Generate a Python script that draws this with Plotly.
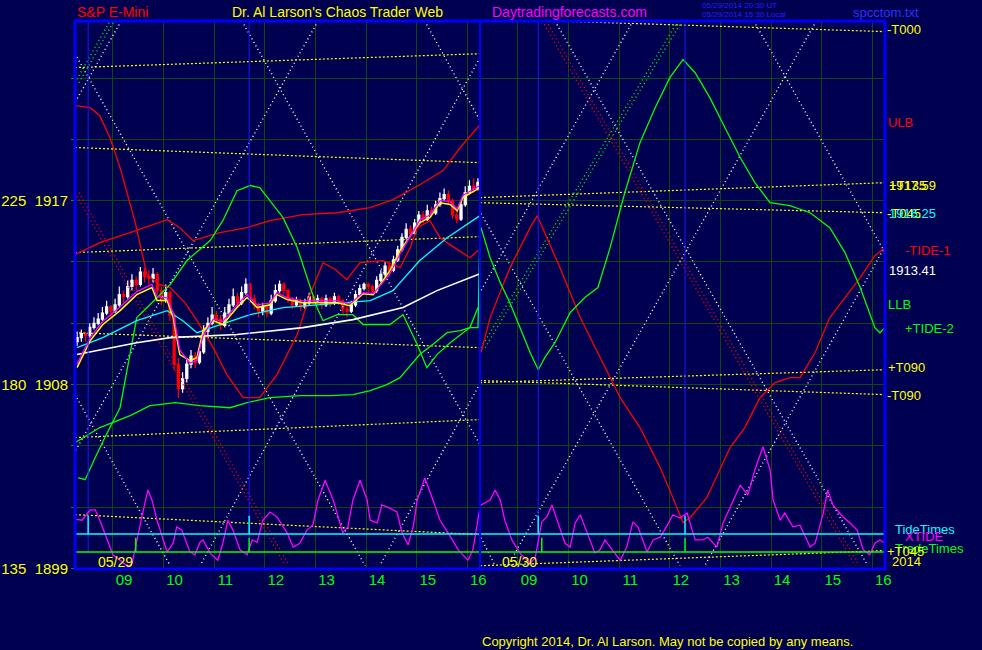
import plotly.graph_objects as go
import pandas as pd

# ---------------- data ----------------
# 5-minute S&P E-mini bars, day 1 session 08:15 - 16:15
bar_open = [1910.1,1910.3,1910.5,1910.4,1910.8,1911.0,1911.2,1911.5,1911.8,1911.6,
            1911.9,1912.4,1912.3,1912.8,1913.1,1912.9,1913.5,1913.3,1913.2,1913.4,
            1912.6,1912.2,1912.5,1911.4,1909.0,1907.8,1908.3,1909.0,1909.4,1909.1,
            1909.6,1910.6,1911.0,1911.4,1911.2,1910.9,1911.5,1911.9,1912.3,1912.0,
            1912.5,1912.9,1912.2,1911.9,1911.6,1911.8,1911.5,1912.1,1912.6,1912.9,
            1912.6,1912.2,1911.9,1912.1,1911.8,1912.0,1912.3,1912.1,1912.2,1911.9,
            1912.2,1912.0,1912.3,1912.1,1911.7,1911.6,1911.9,1912.4,1912.7,1912.9,
            1912.8,1912.6,1913.1,1913.4,1913.8,1913.6,1914.1,1914.6,1915.2,1915.6,
            1915.4,1915.9,1916.3,1916.1,1916.5,1916.4,1916.8,1917.1,1917.3,1917.0,
            1916.3,1916.1,1916.8,1917.4,1917.7,1917.6]
bar_high = [1910.6,1910.7,1910.6,1911.0,1911.3,1911.5,1911.8,1912.1,1911.9,1912.2,
            1912.8,1912.6,1913.1,1913.4,1913.3,1913.75,1913.7,1913.6,1913.7,1913.5,
            1912.8,1912.9,1912.6,1911.5,1909.3,1908.6,1909.3,1909.7,1909.6,1909.9,
            1910.9,1911.3,1911.8,1911.6,1911.4,1911.8,1912.2,1912.7,1912.5,1912.8,
            1913.2,1913.0,1912.4,1912.0,1912.0,1911.9,1912.4,1912.9,1913.1,1913.0,
            1912.7,1912.3,1912.3,1912.2,1912.2,1912.5,1912.4,1912.4,1912.3,1912.4,
            1912.3,1912.5,1912.4,1912.2,1911.9,1912.1,1912.6,1912.9,1913.0,1913.0,
            1912.9,1913.3,1913.6,1914.0,1914.0,1914.3,1914.8,1915.4,1915.9,1915.8,
            1916.1,1916.5,1916.5,1916.8,1916.7,1917.0,1917.4,1917.6,1917.5,1917.1,
            1916.5,1917.0,1917.7,1918.0,1918.1,1918.1]
bar_low = [1909.9,1910.1,1910.1,1910.3,1910.7,1910.9,1911.1,1911.4,1911.3,1911.5,
           1911.8,1912.0,1912.2,1912.6,1912.6,1912.8,1913.0,1912.9,1913.0,1912.4,
           1911.9,1912.0,1911.1,1908.7,1907.35,1907.6,1908.1,1908.8,1908.8,1909.0,
           1909.5,1910.4,1910.9,1911.0,1910.7,1910.8,1911.4,1911.8,1911.8,1911.9,
           1912.4,1912.0,1911.7,1911.3,1911.4,1911.3,1911.4,1912.0,1912.5,1912.4,
           1912.0,1911.7,1911.8,1911.6,1911.7,1911.9,1911.9,1912.0,1911.7,1911.8,
           1911.8,1911.9,1911.9,1911.4,1911.3,1911.5,1911.8,1912.3,1912.6,1912.5,
           1912.4,1912.5,1913.0,1913.3,1913.4,1913.5,1914.0,1914.5,1915.1,1915.2,
           1915.3,1915.8,1915.9,1916.0,1916.2,1916.3,1916.7,1917.0,1916.8,1916.1,
           1915.9,1916.0,1916.7,1917.3,1917.4,1917.5]
bar_close = [1910.3,1910.5,1910.4,1910.8,1911.0,1911.2,1911.5,1911.8,1911.6,1911.9,
             1912.4,1912.3,1912.8,1913.1,1912.9,1913.5,1913.3,1913.2,1913.4,1912.6,
             1912.2,1912.5,1911.4,1909.0,1907.8,1908.3,1909.0,1909.4,1909.1,1909.6,
             1910.6,1911.0,1911.4,1911.2,1910.9,1911.5,1911.9,1912.3,1912.0,1912.5,
             1912.9,1912.2,1911.9,1911.6,1911.8,1911.5,1912.1,1912.6,1912.9,1912.6,
             1912.2,1911.9,1912.1,1911.8,1912.0,1912.3,1912.1,1912.2,1911.9,1912.2,
             1912.0,1912.3,1912.1,1911.7,1911.6,1911.9,1912.4,1912.7,1912.9,1912.8,
             1912.6,1913.1,1913.4,1913.8,1913.6,1914.1,1914.6,1915.2,1915.6,1915.4,
             1915.9,1916.3,1916.1,1916.5,1916.4,1916.8,1917.1,1917.3,1917.0,1916.3,
             1916.1,1916.8,1917.4,1917.7,1917.6,1917.9]

# moving averages (day 1), clock hours / price
ma_yel_h = [8.29,8.55,8.80,9.14,9.47,9.77,9.87,10.07,10.19,10.32,10.52,10.66,10.78,10.98,11.17,
            11.45,11.65,11.85,12.10,12.24,12.44,12.75,13.43,13.68,13.94,14.14,14.47,14.67,15.06,
            15.26,15.46,15.66,15.80,15.91,16.25]
ma_yel_p = [1908.83,1910.15,1910.94,1911.62,1912.40,1912.75,1912.11,1912.11,1911.28,1909.47,1909.17,
            1909.32,1910.64,1911.13,1910.94,1911.77,1912.26,1911.77,1911.91,1912.40,1912.16,1912.01,
            1912.01,1911.86,1912.45,1912.40,1913.58,1914.56,1915.93,1916.17,1916.90,1916.81,1916.51,
            1917.15,1917.64]
ma_mag_p = [1909.0,1910.3,1911.1,1911.8,1912.55,1912.9,1912.3,1912.25,1911.5,1909.7,1909.05,
            1909.2,1910.4,1911.2,1911.1,1911.9,1912.4,1911.9,1912.0,1912.5,1912.25,1912.1,
            1912.1,1911.95,1912.5,1912.45,1913.4,1914.4,1916.05,1916.3,1917.0,1916.95,1916.6,
            1917.25,1917.75]
ma_cyan_h = [8.29,8.80,9.47,10.07,10.38,10.66,11.06,11.71,12.36,13.09,13.74,14.08,14.53,15.06,15.60,16.25]
ma_cyan_p = [1909.81,1910.30,1911.13,1911.62,1911.13,1910.54,1910.89,1911.42,1911.77,1911.91,
             1912.01,1912.11,1912.60,1914.07,1915.19,1916.27]
ma_white_h = [8.29,9.47,10.13,11.45,12.75,13.74,14.73,15.40,16.25]
ma_white_p = [1909.47,1910.05,1910.30,1910.45,1910.79,1911.18,1911.77,1912.60,1913.43]

# upper band (ULB) day 1
ulb_h = [8.25,8.74,9.34,10.07,10.32,10.58,11.11,11.65,12.10,12.75,13.43,14.08,14.53,15.06,15.52,15.86,16.25]
ulb_p = [1914.36,1914.95,1915.44,1916.07,1915.68,1915.05,1915.44,1915.68,1916.02,1916.32,
         1916.41,1916.66,1917.05,1917.78,1918.47,1919.60,1920.72]
# lower band (LLB) day 1
llb_h = [8.25,8.74,9.34,9.73,10.23,10.72,11.31,11.65,12.10,12.69,13.29,13.74,14.08,14.41,14.67,
         15.06,15.36,15.60,15.86,16.05,16.21]
llb_p = [1905.16,1905.90,1906.48,1906.97,1907.12,1906.97,1906.87,1907.12,1907.36,1907.46,1907.46,
         1907.51,1907.71,1908.00,1908.34,1909.47,1910.05,1910.54,1910.64,1910.79,1911.77]

# TIDE-1 (red) day 1 and day 2
tide1_d1_h = [8.25,8.55,8.74,8.94,9.14,9.44,9.67,9.93,10.13,10.42,10.66,10.98,11.25,11.57,11.90,
              12.24,12.64,12.89,13.15,13.39,13.62,13.88,14.33,14.67,14.87,15.01,15.26,15.46,15.66,
              16.05,16.21]
tide1_d1_p = [1921.65,1921.55,1921.16,1920.08,1918.62,1915.93,1913.38,1912.89,1912.75,1912.01,
              1911.13,1909.81,1908.49,1907.36,1907.36,1908.49,1910.45,1912.40,1913.97,1913.63,
              1913.14,1913.97,1914.07,1913.72,1914.70,1915.68,1916.02,1915.19,1914.85,1914.21,1914.56]
tide1_d2_h = [8.27,8.45,8.84,9.24,9.38,9.53,9.83,10.23,10.62,11.02,11.41,11.81,12.06,12.26,12.40,
              12.73,13.19,13.48,13.78,14.08,14.37,14.57,14.87,15.16,15.46,15.76,16.05,16.25]
tide1_d2_p = [1909.57,1911.28,1913.72,1915.68,1916.27,1915.44,1913.72,1911.28,1909.32,1907.36,
              1905.90,1903.94,1902.47,1901.25,1901.49,1902.47,1904.92,1905.90,1907.36,1908.10,
              1908.34,1908.34,1909.57,1911.28,1912.26,1913.23,1914.31,1914.70]

# TIDE-2 (green) day 1 and day 2
tide2_d1_h = [8.31,8.45,8.65,8.84,9.14,9.47,9.73,10.13,10.46,10.92,11.17,11.45,11.71,11.90,12.10,
              12.36,12.64,12.89,13.03,13.15,13.43,13.74,13.94,14.47,14.73,15.01,15.20,15.40,15.66,
              16.05,16.21,16.25]
tide2_d1_p = [1903.45,1903.35,1904.43,1905.41,1906.87,1911.28,1911.91,1912.89,1914.07,1915.05,
              1916.02,1917.49,1917.74,1917.64,1917.00,1916.17,1914.70,1912.89,1911.77,1911.13,
              1911.42,1911.42,1910.94,1910.94,1911.42,1909.96,1908.83,1909.47,1910.05,1910.79,
              1910.79,1915.68]
tide2_d2_h = [8.27,8.45,8.65,8.84,9.04,9.24,9.40,9.53,9.73,10.03,10.32,10.58,10.82,11.11,11.41,
              11.71,12.00,12.26,12.50,12.79,13.09,13.39,13.68,13.98,14.37,14.77,15.16,15.46,15.76,
              16.05,16.15,16.25]
tide2_d2_p = [1915.68,1914.21,1912.99,1912.01,1910.79,1909.57,1908.73,1909.32,1910.05,1911.52,
              1912.26,1912.75,1914.70,1917.39,1919.84,1921.55,1923.02,1923.90,1923.26,1922.04,
              1920.57,1919.11,1917.88,1916.90,1916.76,1916.41,1915.68,1914.46,1912.75,1910.79,
              1910.54,1910.79]

# yellow T-lines (start and end price of each session)
tline_day = [1, 1, 1, 1, 1, 1, 2, 2, 2, 2, 2, 2]
tline_p0 = [1923.51, 1919.60, 1914.46, 1910.54, 1905.41, 1901.64,
            1925.91, 1917.15, 1916.90, 1908.10, 1908.20, 1899.14]
tline_p1 = [1924.19, 1918.86, 1915.24, 1909.81, 1906.29, 1900.66,
            1925.27, 1917.88, 1916.41, 1908.73, 1907.51, 1899.88]

# white dotted time/price diagonals
diag_day = [1, 1, 1, 1, 1, 1, 1, 1, 2, 2, 2, 2, 2, 2, 2]
diag_h0 = [8.25, 11.51, 9.20, 13.09, 16.25, 16.25, 15.12, 8.25, 9.69, 13.62, 8.27, 8.27, 11.31, 14.93, 16.25]
diag_p0 = [1924.19, 1925.96, 1925.96, 1925.96, 1924.00, 1908.05, 1925.96, 1907.51,
           1925.96, 1925.96, 1916.37, 1900.51, 1925.96, 1925.96, 1914.75]
diag_h1 = [13.98, 16.25, 8.25, 8.25, 10.72, 14.27, 16.25, 10.13, 15.91, 16.25, 12.20, 8.55, 8.27, 8.80, 12.69]
diag_p1 = [1899.14, 1905.06, 1921.80, 1904.72, 1899.14, 1899.14, 1920.92, 1899.14,
           1899.14, 1914.46, 1899.14, 1899.14, 1912.60, 1899.14, 1899.14]

# red and green dotted diagonals
red_diag_day = [1, 2]
red_diag_h0 = [8.25, 9.44]
red_diag_p0 = [1917.39, 1925.96]
red_diag_h1 = [12.40, 15.66]
red_diag_p1 = [1899.14, 1899.14]
grn_diag_day = [1, 2]
grn_diag_h0 = [8.25, 8.27]
grn_diag_p0 = [1922.77, 1909.81]
grn_diag_h1 = [8.98, 12.20]
grn_diag_p1 = [1925.96, 1925.96]

# XTIDE oscillator (indicator units)
xt_d1_h = [8.25,8.39,8.55,8.65,8.74,8.88,9.00,9.14,9.30,9.38,9.47,9.57,9.69,9.77,9.87,10.07,10.19,
           10.26,10.36,10.52,10.62,10.72,10.78,10.92,11.07,11.17,11.27,11.37,11.51,11.65,11.75,11.85,
           11.96,12.10,12.24,12.44,12.56,12.69,12.83,12.95,13.05,13.19,13.35,13.45,13.54,13.64,13.74,
           13.88,14.02,14.08,14.22,14.31,14.47,14.61,14.71,14.83,14.93,15.01,15.16,15.32,15.46,15.62,
           15.82,16.01,16.11,16.25]
xt_d1_v = [9.1,8.9,10.8,10.8,8.9,5.3,2.6,1.6,0.4,1.1,5.3,9.5,14.4,12.6,8.9,3.1,4.7,
           7.7,7.1,3.1,2.6,4.9,5.3,2.9,1.6,4.7,8.9,7.1,3.5,2.6,5.3,4.9,
           8.9,10.4,9.5,6.6,4.0,4.7,7.1,8.0,12.6,16.2,12.6,9.5,6.6,7.7,12.6,
           16.2,12.6,8.9,8.4,11.7,11.1,10.4,6.6,4.4,7.7,12.6,16.6,12.6,8.9,6.6,
           3.5,1.6,3.5,11.3]
xt_d2_h = [8.27,8.45,8.55,8.65,8.74,8.88,9.04,9.24,9.34,9.47,9.57,9.67,9.77,9.93,10.03,10.13,10.23,
           10.36,10.52,10.62,10.72,10.82,11.02,11.15,11.27,11.37,11.55,11.67,11.81,11.95,12.06,12.20,
           12.34,12.50,12.64,12.75,12.93,13.05,13.25,13.39,13.54,13.68,13.84,13.98,14.04,14.18,14.27,
           14.43,14.57,14.77,14.87,15.03,15.12,15.22,15.42,15.56,15.70,15.82,15.95,16.05,16.15,16.25]
xt_d2_v = [11.7,12.6,14.4,12.6,8.9,5.3,2.9,1.1,2.0,8.6,9.5,11.7,8.9,4.7,4.0,8.4,9.9,
           6.6,2.9,3.5,5.3,4.0,1.6,4.0,8.6,7.7,3.1,5.3,5.8,8.0,9.9,9.3,
           10.2,5.3,5.3,5.8,4.0,8.4,12.6,15.3,13.5,18.1,22.3,18.1,12.6,8.9,10.2,
           7.7,8.0,4.0,4.7,10.2,14.4,11.7,9.5,8.4,7.1,3.5,2.6,4.7,5.3,4.7]

# TideTimes / TradeTimes markers
tide_day = [1, 1, 2, 2]
tide_h = [8.51, 11.69, 9.40, 12.30]
tide_base, tide_peak = 6.4, 9.7
trade_day = [1, 1, 2, 2]
trade_h = [9.45, 11.69, 9.47, 12.30]
trade_base, trade_peak = 3.1, 5.7

# axis labels
hour_ticks = [9, 10, 11, 12, 13, 14, 15, 16]
hour_text = ["09", "10", "11", "12", "13", "14", "15", "16"]
price_ticks = [1899, 1902, 1905, 1908, 1911, 1914, 1917, 1920, 1923]
price_text = ["135\u00a0\u00a01899", "", "", "180\u00a0\u00a01908", "", "", "225\u00a0\u00a01917", "", ""]

# ---------------- helpers ----------------
OPEN_H = 8.25


def sx(day, h):
    return (day - 1) * 8 + (h - OPEN_H)


def sxl(day, hs):
    return [sx(day, h) for h in hs]


NAVY = "#000050"
GRID = "#0c4a0c"
FONT = "Liberation Sans, Arial, sans-serif"
DOTS = "1px,3px"
FINE = "2px,2px"

fig = go.Figure()


def seg_trace(days, h0, p0, h1, p1, color, width=1.3, dash=DOTS, shift=0.0, yaxis="y"):
    xs, ys = [], []
    for d, a, b, c, e in zip(days, h0, p0, h1, p1):
        xs += [sx(d, a) + shift, sx(d, c) + shift, None]
        ys += [b, e, None]
    fig.add_trace(go.Scatter(x=xs, y=ys, mode="lines", yaxis=yaxis,
                             line=dict(color=color, width=width, dash=dash),
                             hoverinfo="skip", showlegend=False))


# yellow T-lines
seg_trace(tline_day, [OPEN_H] * len(tline_day), tline_p0, [16.25] * len(tline_day), tline_p1,
          "#ffff00", width=1.2, dash=FINE)
# white dotted diagonals
seg_trace(diag_day, diag_h0, diag_p0, diag_h1, diag_p1, "#ffffff", width=1.4)
# red double dotted
seg_trace(red_diag_day, red_diag_h0, red_diag_p0, red_diag_h1, red_diag_p1, "#ff0000", width=1.4)
seg_trace(red_diag_day, red_diag_h0, red_diag_p0, red_diag_h1, red_diag_p1, "#ff0000", width=1.4, shift=0.08)
# green double dotted
seg_trace(grn_diag_day, grn_diag_h0, grn_diag_p0, grn_diag_h1, grn_diag_p1, "#00ff00", width=1.4)
seg_trace(grn_diag_day, grn_diag_h0, grn_diag_p0, grn_diag_h1, grn_diag_p1, "#00ff00", width=1.4, shift=0.08)

# blue tide-time verticals
bx, by = [], []
for d, h in zip(tide_day, tide_h):
    bx += [sx(d, h), sx(d, h), None]
    by += [trade_base, 100, None]
fig.add_trace(go.Scatter(x=bx, y=by, yaxis="y2", mode="lines",
                         line=dict(color="#1a1aff", width=1), hoverinfo="skip", showlegend=False))


def line(xs, ys, color, width=1.3, yaxis="y"):
    fig.add_trace(go.Scatter(x=xs, y=ys, mode="lines", yaxis=yaxis,
                             line=dict(color=color, width=width),
                             hoverinfo="skip", showlegend=False))


line(sxl(1, ulb_h), ulb_p, "#ff0000")
line(sxl(1, llb_h), llb_p, "#00ff00")
line(sxl(1, tide1_d1_h), tide1_d1_p, "#ff0000")
line(sxl(2, tide1_d2_h), tide1_d2_p, "#ff0000")
line(sxl(1, tide2_d1_h), tide2_d1_p, "#00ff00")
line(sxl(2, tide2_d2_h), tide2_d2_p, "#00ff00")
line(sxl(1, ma_white_h), ma_white_p, "#ffffff", 1.6)
line(sxl(1, ma_cyan_h), ma_cyan_p, "#00ffff", 1.3)

# candles
bar_time = pd.date_range("2014-05-29 08:15", periods=len(bar_close), freq="5min")
bar_x = [sx(1, t.hour + t.minute / 60 + 2.5 / 60) for t in bar_time]
fig.add_trace(go.Candlestick(
    x=bar_x, open=bar_open, high=bar_high, low=bar_low, close=bar_close,
    increasing=dict(line=dict(color="#ffffff", width=1.2), fillcolor="#ffffff"),
    decreasing=dict(line=dict(color="#ff0000", width=1.2), fillcolor="#ff0000"),
    whiskerwidth=0, showlegend=False, hoverinfo="skip"))

line(sxl(1, ma_yel_h), ma_yel_p, "#ffff00", 1.5)
line(sxl(1, ma_yel_h), ma_mag_p, "#ff00ff", 1.3)

# lower indicators
line(sxl(1, xt_d1_h) + sxl(2, xt_d2_h), xt_d1_v + xt_d2_v, "#ff00ff", 1.3, yaxis="y2")


def times_line(days, hs, base, peak, color):
    pts = sorted(sx(d, h) for d, h in zip(days, hs))
    xs, ys = [0], [base]
    for s in pts:
        xs += [s, s, s]
        ys += [base, peak, base]
    xs.append(16)
    ys.append(base)
    line(xs, ys, color, 1.5, yaxis="y2")


times_line(tide_day, tide_h, tide_base, tide_peak, "#00ffff")
times_line(trade_day, trade_h, trade_base, trade_peak, "#00ff00")

# ---------------- layout ----------------
tickvals = sxl(1, hour_ticks) + sxl(2, hour_ticks)
fig.update_layout(
    width=982, height=650,
    margin=dict(l=75, r=97, t=21, b=81, autoexpand=False),
    paper_bgcolor=NAVY, plot_bgcolor=NAVY,
    font=dict(family=FONT, color="#ffff00"),
    showlegend=False,
    xaxis=dict(range=[0, 16], tickvals=tickvals, ticktext=hour_text + hour_text,
               ticklabelshift=11, tickfont=dict(color="#00ff00", size=15, family=FONT),
               showgrid=True, gridcolor=GRID, gridwidth=1, zeroline=False, automargin=False,
               rangeslider=dict(visible=False), ticks="", showline=False, fixedrange=True),
    yaxis=dict(range=[1898.98, 1925.79], tickvals=price_ticks, ticktext=price_text,
               tickfont=dict(color="#ffff00", size=15, family=FONT), automargin=False,
               showgrid=True, gridcolor=GRID, gridwidth=1, zeroline=False,
               ticks="outside", ticklen=3, tickcolor="#00a000", showline=False),
    yaxis2=dict(range=[0, 100], overlaying="y", visible=False, fixedrange=True),
)

# frame and day divider
fig.add_shape(type="rect", xref="paper", yref="paper", x0=0, x1=1, y0=0, y1=1,
              line=dict(color="#0000ff", width=3), layer="above")
fig.add_shape(type="line", xref="x", yref="paper", x0=8, x1=8, y0=0, y1=1,
              line=dict(color="#0000ff", width=2), layer="above")


def ann(text, x, y, color, size=13, xanchor="left"):
    fig.add_annotation(text=text, x=x, y=y, xref="paper", yref="paper", showarrow=False,
                       xanchor=xanchor, yanchor="middle",
                       font=dict(color=color, size=size, family=FONT))


ann("S&amp;P E-Mini", 0.0, 1.0164, "#ff0000", 14)
ann("Dr. Al Larson's Chaos Trader Web", 0.1914, 1.0164, "#ffff00", 14)
ann("Daytradingforecasts.com", 0.5123, 1.0164, "#ff00ff", 14)
ann("05/29/2014 20:30 UT", 0.7716, 1.0274, "#2020ff", 8)
ann("05/29/2014 15:30 Local", 0.7716, 1.0110, "#2020ff", 8)
ann("spcctom.txt", 0.958, 1.0164, "#3030ff", 13)
ann("Copyright 2014, Dr. Al Larson. May not be copied by any means.", 0.5, -0.1314, "#ffff00", 13)
ann("05/29", 0.0259, 0.0128, "#ffff00", 14)
ann("05/30", 0.5247, 0.0128, "#ffff00", 14)

# right-hand value labels
ann("-T000", 1.0, 0.9836, "#ffff00")
ann("ULB", 1.001, 0.8139, "#ff0000")
ann("+T135", 1.0025, 0.7007, "#ffff00")
ann("1917.59", 1.0025, 0.7007, "#ffff00")
ann("-T045", 1.0, 0.6496, "#ffff00")
ann("1916.25", 1.0025, 0.6496, "#00ffff")
ann("-TIDE-1", 1.0222, 0.5821, "#ff0000")
ann("1913.41", 1.0025, 0.5456, "#ffffff")
ann("LLB", 1.001, 0.4818, "#00ff00")
ann("+TIDE-2", 1.0222, 0.4380, "#00ff00")
ann("+T090", 1.001, 0.3686, "#ffff00")
ann("-T090", 1.0, 0.3175, "#ffff00")
ann("TideTimes", 1.0099, 0.0712, "#00ffff")
ann("XTIDE", 1.022, 0.0584, "#ff00ff")
ann("TradeTimes", 1.0099, 0.0383, "#00ff00")
ann("+T045", 1.0, 0.0328, "#ffff00")
ann("2014", 1.006, 0.0128, "#ffff00")

fig.write_html("out.html", config={"displayModeBar": False},
               post_script="document.body.style.margin='0px';")
